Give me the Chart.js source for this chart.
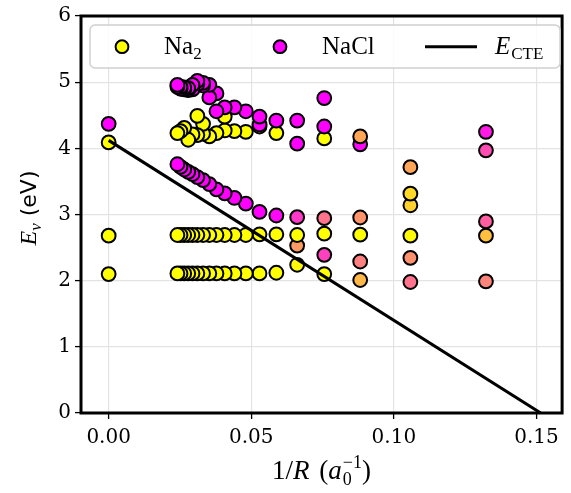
<!DOCTYPE html>
<html><head><meta charset="utf-8">
<script src="https://cdn.jsdelivr.net/npm/chart.js@4/dist/chart.umd.min.js"></script>
<style>html,body{margin:0;padding:0;background:#fff;}#wrap{position:relative;width:571px;height:493px;}</style>
</head><body><div id="wrap"><canvas id="c" width="571" height="493"></canvas></div>
<script>
// 1/R columns (bohr^-1): R = infinity, 22 Å ... 4 Å
const invR = [0.0000, 0.0241, 0.0252, 0.0265, 0.0279, 0.0294, 0.0311, 0.0331, 0.0353, 0.0378, 0.0407, 0.0441, 0.0481, 0.0529, 0.0588, 0.0661, 0.0756, 0.0882, 0.1058, 0.1323];

// excitation energies (eV) per state, and Na2 character (1 = Na2, 0 = NaCl)
const stateA = [2.10, 2.11, 2.11, 2.11, 2.11, 2.11, 2.11, 2.11, 2.11, 2.11, 2.11, 2.11, 2.11, 2.11, 2.12, 2.24, 2.10, 2.01, 1.98, 1.99];
const charA  = [1, 1, 1, 1, 1, 1, 1, 1, 1, 1, 1, 1, 1, 1, 1, 0.97, 1, 0.72, 0.45, 0.52];
const stateB = [2.68, 2.69, 2.69, 2.69, 2.69, 2.69, 2.69, 2.69, 2.69, 2.69, 2.69, 2.69, 2.69, 2.70, 2.70, 2.69, 2.71, 2.695, 2.68, 2.68];
const charB  = [1, 1, 1, 1, 1, 1, 1, 1, 1, 1, 1, 1, 1, 1, 1, 1, 1, 1, 0.98, 0.75];
const stateC = [null, 3.76, 3.72, 3.68, 3.645, 3.61, 3.565, 3.52, 3.46, 3.38, 3.32, 3.25, 3.165, 3.04, 2.985, 2.96, 2.945, 2.955, 3.14, 2.895];
const charC  = [null, 0, 0, 0, 0, 0, 0, 0, 0, 0, 0, 0, 0, 0, 0.03, 0.22, 0.45, 0.58, 0.82, 0.37];
const stateD = [null, null, null, null, null, null, null, null, null, null, null, null, null, null, null, 2.53, 2.39, 2.29, 2.345, null];
const charD  = [null, null, null, null, null, null, null, null, null, null, null, null, null, null, null, 0.6, 0.25, 0.5, 0.57, null];
const stateE = [4.09, 4.23, 4.26, 4.31, 4.13, 4.21, 4.20, 4.22, 4.18, 4.23, 4.27, 4.26, 4.25, 4.33, 4.23, null, 4.15, 4.18, 3.315, null];
const charE  = [1, 1, 1, 1, 1, 1, 1, 1, 1, 1, 1, 1, 1, 1, 1, null, 1, 0.65, 0.85, null];
const stateF = [null, null, null, null, null, null, 4.49, 4.37, null, null, 4.48, null, null, null, null, null, null, null, null, null];
const charF  = [null, null, null, null, null, null, 1, 1, null, null, 1, null, null, null, null, null, null, null, null, null];
const stateG = [4.37, 4.93, 4.90, 4.89, 4.88, 4.96, 4.97, 4.95, 4.77, 4.56, 4.62, 4.62, 4.56, 4.48, 4.42, 4.42, 4.33, 4.06, 3.715, 3.97];
const charG  = [0, 0, 0, 0, 0, 0, 0, 0, 0, 0, 0, 0, 0, 0, 0, 0, 0, 0.02, 0.65, 0.3];
const stateH = [null, 4.96, 4.93, 4.92, 4.91, 4.89, 5.02, 4.99, 4.96, 4.83, null, null, null, 4.36, null, 4.07, 4.76, null, null, 4.25];
const charH  = [null, 0, 0, 0, 0, 0, 0, 0, 0, 0, null, null, null, 0, null, 0, 0, null, null, 0.1];

// charge-transfer estimate line
const cteX = [0, 0.1515];
const cteE = [4.12, 0];

const xTickValues = [0, 0.05, 0.10, 0.15];
const yTickValues = [0, 1, 2, 3, 4, 5, 6];

const seriesNames = ['Na₂', 'NaCl', 'E_CTE'];

function spring(w) { return 'rgb(255,' + Math.round(255 * w) + ',' + Math.round(255 * (1 - w)) + ')'; }

const states = [[stateA, charA], [stateB, charB], [stateC, charC], [stateD, charD], [stateE, charE], [stateF, charF], [stateG, charG], [stateH, charH]];
// draw order: short R first (large 1/R), R = infinity last; within a column, low energy first
const colOrder = invR.map((v, i) => i).sort((a, b) => invR[b] - invR[a]);
const pts = [], cols = [];
for (const ci of colOrder) {
  const here = [];
  for (const [e, w] of states) if (e[ci] !== null) here.push([e[ci], w[ci]]);
  here.sort((a, b) => a[0] - b[0]);
  for (const [e, w] of here) { pts.push({ x: invR[ci], y: e }); cols.push(spring(w)); }
}

const L = 81, R = 569, T = 14, B = 413;

function partsWidth(ctx, parts) {
  let w = 0, prevW = 0;
  for (const p of parts) {
    ctx.font = p.font; const pw = ctx.measureText(p.text).width;
    if (p.stack) { const nw = Math.max(pw, prevW); w += nw - prevW; prevW = nw; }
    else { w += pw + (p.after || 0); prevW = pw; }
  }
  return w;
}
function drawParts(ctx, parts, x, y) {
  let cx = x, lastX = x, prevW = 0;
  for (const p of parts) {
    ctx.font = p.font; const pw = ctx.measureText(p.text).width;
    if (p.stack) { ctx.fillText(p.text, lastX, y + (p.dy || 0)); const nw = Math.max(pw, prevW); cx = lastX + nw; prevW = nw; }
    else { ctx.fillText(p.text, cx, y + (p.dy || 0)); lastX = cx; cx += pw + (p.after || 0); prevW = pw; }
  }
}

const SERIF = '"Liberation Serif", serif';
function fr(sz) { return sz + 'px ' + SERIF; }
function fi(sz) { return 'italic ' + sz + 'px ' + SERIF; }

const decor = {
  id: 'decor',
  afterDraw(chart) {
    const ctx = chart.ctx, a = chart.chartArea;
    ctx.save();
    // spines
    ctx.strokeStyle = '#000'; ctx.lineWidth = 3;
    ctx.strokeRect(a.left, a.top, a.right - a.left, a.bottom - a.top);
    ctx.fillStyle = '#000'; ctx.textBaseline = 'alphabetic';
    // x title
    const xt = [
      { text: '1/', font: fr(27) },
      { text: 'R', font: fi(27), after: 3 },
      { text: ' (', font: fr(27) },
      { text: 'a', font: fi(27), after: 1 },
      { text: '0', font: fr(18), dy: 6 },
      { text: '−1', font: fr(18), dy: -11, stack: true },
      { text: ')', font: fr(27) }
    ];
    const xw = partsWidth(ctx, xt);
    drawParts(ctx, xt, (a.left + a.right) / 2 - xw / 2, 479);
    // y title
    const yt = [
      { text: 'E', font: fi(24) },
      { text: 'ν', font: fi(17), dy: 5 },
      { text: ' (eV)', font: '22px "DejaVu Sans", sans-serif' }
    ];
    const yw = partsWidth(ctx, yt);
    ctx.save(); ctx.translate(36, 208); ctx.rotate(-Math.PI / 2);
    drawParts(ctx, yt, -yw / 2, 0); ctx.restore();
    // legend
    const lx = 90, ly = 25, lw = 470, lh = 43, r = 5;
    ctx.beginPath();
    ctx.moveTo(lx + r, ly); ctx.arcTo(lx + lw, ly, lx + lw, ly + lh, r); ctx.arcTo(lx + lw, ly + lh, lx, ly + lh, r);
    ctx.arcTo(lx, ly + lh, lx, ly, r); ctx.arcTo(lx, ly, lx + lw, ly, r); ctx.closePath();
    ctx.fillStyle = 'rgba(255,255,255,0.85)'; ctx.fill();
    ctx.strokeStyle = '#d0d0d0'; ctx.lineWidth = 1.5; ctx.stroke();
    const my = 46.7;
    [[122, '#ffff00'], [280, '#ff00ff']].forEach(([mx, c]) => {
      ctx.beginPath(); ctx.arc(mx, my, 6.4, 0, Math.PI * 2); ctx.fillStyle = c; ctx.fill();
      ctx.strokeStyle = '#000'; ctx.lineWidth = 2; ctx.stroke();
    });
    ctx.beginPath(); ctx.moveTo(425, my); ctx.lineTo(477, my); ctx.strokeStyle = '#000'; ctx.lineWidth = 3; ctx.stroke();
    ctx.fillStyle = '#000';
    drawParts(ctx, [{ text: 'Na', font: fr(25) }, { text: '2', font: fr(17), dy: 5 }], 164, 53.5);
    drawParts(ctx, [{ text: 'NaCl', font: fr(25) }], 322, 53.5);
    drawParts(ctx, [{ text: 'E', font: fi(25), after: 1 }, { text: 'CTE', font: fr(17), dy: 5 }], 495, 53.5);
    ctx.restore();
  }
};

const tickFont = { family: '"DejaVu Serif", serif', size: 20 };

new Chart(document.getElementById('c'), {
  type: 'scatter',
  data: {
    datasets: [
      { label: seriesNames[0] + ' / ' + seriesNames[1], data: pts, pointBackgroundColor: cols, pointBorderColor: '#000', pointBorderWidth: 2, pointRadius: 6.9, pointHoverRadius: 6.9, order: 1 },
      { type: 'line', label: seriesNames[2], data: cteX.map((x, i) => ({ x: x, y: cteE[i] })), borderColor: '#000', borderWidth: 3, pointRadius: 0, fill: false, order: 0, showLine: true }
    ]
  },
  options: {
    responsive: false, animation: false, devicePixelRatio: 1,
    layout: { padding: { left: 0, right: 571 - R, top: T, bottom: 0 } },
    plugins: { legend: { display: false }, tooltip: { enabled: false } },
    scales: {
      x: {
        type: 'linear', min: -0.0097, max: 0.159,
        afterBuildTicks: s => { s.ticks = xTickValues.map(v => ({ value: v })); },
        afterFit: s => { s.height = 493 - B; },
        ticks: { callback: v => v.toFixed(2), font: tickFont, color: '#000', padding: 7, maxRotation: 0 },
        grid: { color: '#e3e3e3', lineWidth: 1.2, tickColor: '#000', tickLength: 6, tickWidth: 1.3 },
        border: { display: false }
      },
      y: {
        type: 'linear', min: 0, max: 6,
        afterBuildTicks: s => { s.ticks = yTickValues.map(v => ({ value: v })); },
        afterFit: s => { s.width = L; },
        ticks: { callback: v => String(v), font: tickFont, color: '#000', padding: 4 },
        grid: { color: '#e3e3e3', lineWidth: 1.2, tickColor: '#000', tickLength: 6, tickWidth: 1.3 },
        border: { display: false }
      }
    }
  },
  plugins: [decor]
});
</script></body></html>
